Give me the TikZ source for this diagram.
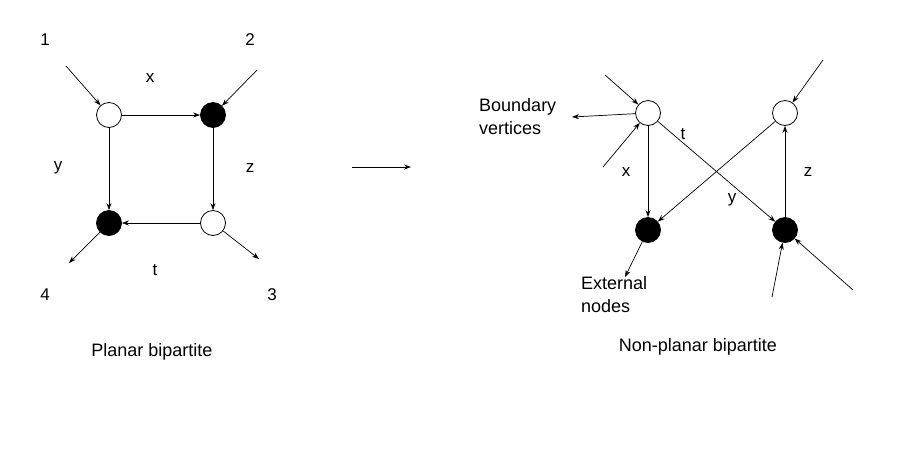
\documentclass[tikz,border=0pt]{standalone}
\usepackage{fontspec}
\setmainfont{Liberation Sans}
\usetikzlibrary{arrows.meta}
\begin{document}
\begin{tikzpicture}[x=1pt,y=-1pt,
  wv/.style={circle,draw=black,line width=0.8pt,fill=white,minimum size=25pt,inner sep=0pt},
  bv/.style={circle,draw=black,line width=0.8pt,fill=black,minimum size=25pt,inner sep=0pt},
  edge/.style={line width=0.7pt,-{Stealth[length=7pt,width=5pt]}},
  lbl/.style={font=\fontsize{17}{20}\selectfont,inner sep=0pt},
  txt/.style={font=\fontsize{18}{23}\selectfont,inner sep=0pt,align=left}]
\useasboundingbox (0,0) rectangle (903,451);
% left graph
\node[wv] (A) at (109,115) {};
\node[bv] (B) at (213,115) {};
\node[bv] (C) at (109,223) {};
\node[wv] (D) at (213,223) {};
\coordinate (i1) at (66,66);
\coordinate (i2) at (257,70);
\coordinate (o4) at (69,263);
\coordinate (o3) at (259,259);
\draw[edge] (A) -- (B);
\draw[edge] (B) -- (D);
\draw[edge] (D) -- (C);
\draw[edge] (A) -- (C);
\draw[edge] (i1) -- (A);
\draw[edge] (i2) -- (B);
\draw[edge] (C) -- (o4);
\draw[edge] (D) -- (o3);
\node[lbl] (l1) at (45,40) {1};
\node[lbl] (l2) at (250,40) {2};
\node[lbl] (lx) at (150,78) {x};
\node[lbl] (ly) at (58,168) {y};
\node[lbl] (lz) at (250,168) {z};
\node[lbl] (lt) at (155,270) {t};
\node[lbl] (l4) at (45,295) {4};
\node[lbl] (l3) at (272,295) {3};
\node[txt] (pb) at (152,352) {Planar bipartite};
% middle arrow
\coordinate (m1) at (352,167);
\coordinate (m2) at (411,167);
\draw[edge] (m1) -- (m2);
% right graph
\node[wv] (P) at (648,113) {};
\node[wv] (Q) at (785,113) {};
\node[bv] (R) at (648,230) {};
\node[bv] (S) at (785,230) {};
\coordinate (p1) at (605,75);
\coordinate (p2) at (603,167);
\coordinate (p3) at (572,117);
\coordinate (q1) at (823,60);
\coordinate (r1) at (625,277);
\coordinate (s1) at (772,297);
\coordinate (s2) at (853,290);
\draw[edge] (P) -- (R);
\draw[edge] (Q) -- (R);
\draw[edge] (P) -- (S);
\draw[edge] (S) -- (Q);
\draw[edge] (p1) -- (P);
\draw[edge] (p2) -- (P);
\draw[edge] (P) -- (p3);
\draw[edge] (q1) -- (Q);
\draw[edge] (R) -- (r1);
\draw[edge] (s1) -- (S);
\draw[edge] (s2) -- (S);
\node[lbl] (rt) at (683,134) {t};
\node[lbl] (rx) at (626,172) {x};
\node[lbl] (ry) at (732,200) {y};
\node[lbl] (rz) at (808,172) {z};
\node[txt,anchor=west] (bvx) at (479,117) {Boundary\\vertices};
\node[txt,anchor=west] (ext) at (581,295) {External\\nodes};
\node[txt] (npb) at (698,347) {Non-planar bipartite};
\end{tikzpicture}
\end{document}
